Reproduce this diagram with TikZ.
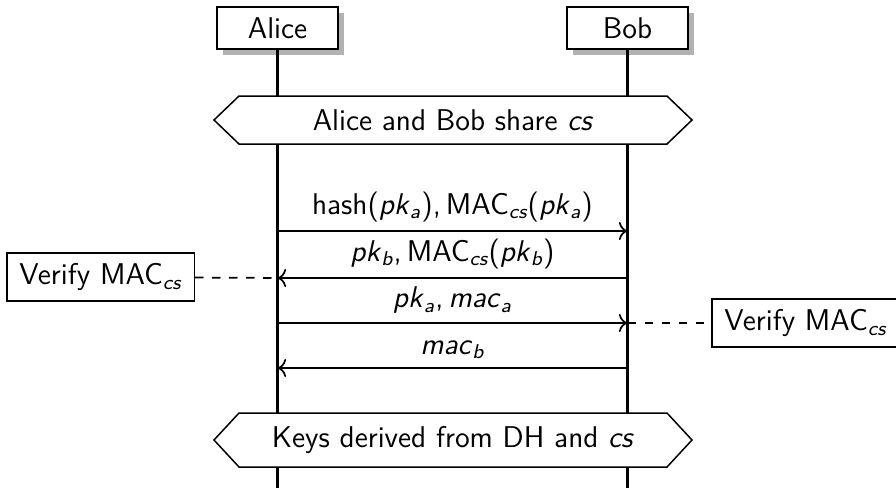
\documentclass[tikz,border=0pt]{standalone}
\usepackage{amsmath}
\usepackage{tikz}
\usetikzlibrary{shadows,arrows.meta}
\renewcommand{\familydefault}{\sfdefault}
\newcommand{\vr}[2]{\textit{#1}$_{\textit{#2}}$}
\newcommand{\mac}{MAC$_{\textit{cs}}$}
\tikzset{
  inst/.style={draw,line width=0.6pt,fill=white,minimum width=48.4pt,minimum height=16.8pt,
    drop shadow={fill=black!30,opacity=1,shadow xshift=2.4pt,shadow yshift=-2.4pt}},
  life/.style={line width=0.9pt},
  msg/.style={-{To[scale=1.1]},line width=0.7pt},
  note/.style={draw,line width=0.6pt,fill=white,minimum height=19.2pt,inner xsep=5pt},
  hexa/.style={draw,line width=0.6pt,fill=white},
  link/.style={line width=0.7pt,dash pattern=on 3.4pt off 3.4pt}
}
\begin{document}
\begin{tikzpicture}[x=0.4pt,y=-0.4pt,font=\fontsize{12}{14}\selectfont]
\useasboundingbox (0,0) rectangle (896,488);
%instances
\node[inst] (alice) at (277.5,28) {Alice};
\node[inst] (bob) at (627.5,28) {Bob};
\coordinate (aend) at (277.5,488);
\coordinate (bend) at (627.5,488);
\draw[life] (alice.south) -- (aend);
\draw[life] (bob.south) -- (bend);
%conditions
\draw[hexa] (214,120)--(239,96)--(667,96)--(692,120)--(667,144)--(239,144)--cycle;
\node (share) at (453,120) {Alice and Bob share \textit{cs}};
\draw[hexa] (214,440)--(239,413)--(667,413)--(692,440)--(667,467)--(239,467)--cycle;
\node (keys) at (453,440) {Keys derived from DH and \textit{cs}};
%messages
\coordinate (a1) at (277.5,231); \coordinate (b1) at (627.5,231);
\coordinate (a2) at (277.5,278); \coordinate (b2) at (627.5,278);
\coordinate (a3) at (277.5,323); \coordinate (b3) at (627.5,323);
\coordinate (a4) at (277.5,368); \coordinate (b4) at (627.5,368);
\draw[msg] (a1) -- node[above] {hash(\vr{pk}{a}),\,\mac(\vr{pk}{a})} (b1);
\draw[msg] (b2) -- node[above] {\vr{pk}{b},\,\mac(\vr{pk}{b})} (a2);
\draw[msg] (a3) -- node[above] {\vr{pk}{a},\,\vr{mac}{a}} (b3);
\draw[msg] (b4) -- node[above] {\vr{mac}{b}} (a4);
%actions
\node[note,anchor=east] (vleft) at (195,277) {Verify \mac};
\node[note,anchor=west] (vright) at (711,323) {Verify \mac};
\draw[link] (vleft) -- (a2);
\draw[link] (b3) -- (vright);
\end{tikzpicture}
\end{document}
